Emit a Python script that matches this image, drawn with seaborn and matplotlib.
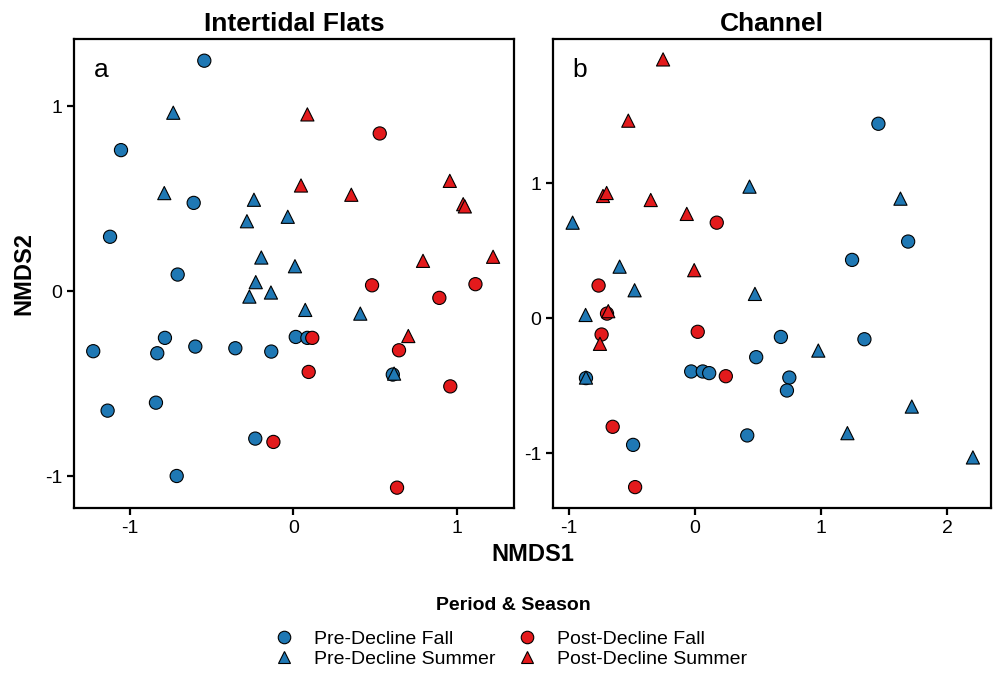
import numpy as np
import pandas as pd
import matplotlib
matplotlib.use("Agg")
import matplotlib.pyplot as plt
from matplotlib.lines import Line2D
import seaborn as sns

# NMDS scores, by habitat and group
# Intertidal Flats (panel a)
flats_pre_fall_x = [-0.545, -1.055, -1.122, -0.610, -0.708, -1.225, -0.786, -0.833, -0.600,
                    -0.355, -0.135, 0.015, 0.086, -1.137, -0.841, -0.233, -0.714, 0.609]
flats_pre_fall_y = [1.245, 0.762, 0.294, 0.477, 0.090, -0.324, -0.252, -0.335, -0.299,
                    -0.308, -0.326, -0.247, -0.252, -0.645, -0.602, -0.796, -0.998, -0.450]
flats_pre_summer_x = [-0.735, -0.790, -0.241, -0.284, -0.034, -0.196, 0.010, -0.230, -0.269,
                      -0.137, 0.073, 0.410, 0.617]
flats_pre_summer_y = [0.964, 0.530, 0.494, 0.378, 0.402, 0.182, 0.135, 0.049, -0.029,
                      -0.007, -0.101, -0.121, -0.445]
flats_post_fall_x = [0.529, 0.482, 1.115, 0.894, 0.116, 0.647, 0.094, 0.961, -0.122, 0.635]
flats_post_fall_y = [0.852, 0.032, 0.038, -0.036, -0.252, -0.319, -0.436, -0.514, -0.814, -1.061]
flats_post_summer_x = [0.086, 0.047, 0.355, 0.958, 1.040, 1.050, 0.794, 1.223, 0.704]
flats_post_summer_y = [0.955, 0.571, 0.521, 0.596, 0.470, 0.458, 0.164, 0.186, -0.242]

# Channel (panel b)
chan_pre_fall_x = [1.456, 1.692, 1.247, 0.682, 1.345, 0.486, -0.030, 0.062, 0.113,
                   0.749, 0.730, 0.415, -0.491, -0.865]
chan_pre_fall_y = [1.441, 0.568, 0.432, -0.139, -0.156, -0.289, -0.395, -0.395, -0.407,
                   -0.440, -0.536, -0.869, -0.939, -0.444]
chan_pre_summer_x = [-0.971, 0.433, 1.631, -0.598, -0.479, 0.476, -0.868, 0.979, 1.721,
                     1.210, 2.206, -0.865]
chan_pre_summer_y = [0.708, 0.975, 0.886, 0.382, 0.207, 0.180, 0.024, -0.240, -0.655,
                     -0.852, -1.032, -0.440]
chan_post_fall_x = [0.173, -0.765, -0.698, -0.741, 0.022, 0.245, -0.653, -0.475]
chan_post_fall_y = [0.708, 0.242, 0.034, -0.121, -0.101, -0.430, -0.805, -1.252]
chan_post_summer_x = [-0.253, -0.529, -0.730, -0.701, -0.351, -0.065, -0.006, -0.688, -0.754]
chan_post_summer_y = [1.918, 1.464, 0.906, 0.928, 0.876, 0.773, 0.356, 0.052, -0.190]

groups = ["Pre-Decline Fall", "Pre-Decline Summer", "Post-Decline Fall", "Post-Decline Summer"]
palette = {"Pre-Decline Fall": "#1F78B4", "Pre-Decline Summer": "#1F78B4",
           "Post-Decline Fall": "#E31A1C", "Post-Decline Summer": "#E31A1C"}
markers = {"Pre-Decline Fall": "o", "Pre-Decline Summer": "^",
           "Post-Decline Fall": "o", "Post-Decline Summer": "^"}


def make_df(parts, habitat):
    frames = []
    for grp, xs, ys in parts:
        frames.append(pd.DataFrame({"NMDS1": xs, "NMDS2": ys, "group": grp, "habitat": habitat}))
    return pd.concat(frames, ignore_index=True)


flats = make_df([
    (groups[0], flats_pre_fall_x, flats_pre_fall_y),
    (groups[1], flats_pre_summer_x, flats_pre_summer_y),
    (groups[2], flats_post_fall_x, flats_post_fall_y),
    (groups[3], flats_post_summer_x, flats_post_summer_y),
], "Intertidal Flats")
chan = make_df([
    (groups[0], chan_pre_fall_x, chan_pre_fall_y),
    (groups[1], chan_pre_summer_x, chan_pre_summer_y),
    (groups[2], chan_post_fall_x, chan_post_fall_y),
    (groups[3], chan_post_summer_x, chan_post_summer_y),
], "Channel")

sns.set_style("white")
plt.rcParams["font.family"] = ["Liberation Sans", "DejaVu Sans"]
plt.rcParams["axes.unicode_minus"] = False
plt.rcParams["text.color"] = "black"
plt.rcParams["axes.labelcolor"] = "black"

fig = plt.figure(figsize=(9.94, 6.8), dpi=100)
ax1 = fig.add_axes([0.0744, 0.2529, 0.4427, 0.6897])
ax2 = fig.add_axes([0.5563, 0.2529, 0.4406, 0.6897])

panels = [
    (ax1, flats, "Intertidal Flats", "a", (-1.343, 1.351), (-1.171, 1.362), [-1, 0, 1]),
    (ax2, chan, "Channel", "b", (-1.127, 2.349), (-1.407, 2.069), [-1, 0, 1, 2]),
]

for ax, df, title, letter, xlim, ylim, xt in panels:
    sns.scatterplot(data=df, x="NMDS1", y="NMDS2", hue="group", style="group",
                    palette=palette, markers=markers, hue_order=groups, style_order=groups,
                    s=90, edgecolor="black", linewidth=0.8, legend=False, ax=ax)
    ax.set_xlim(*xlim)
    ax.set_ylim(*ylim)
    ax.set_xticks(xt)
    ax.set_yticks([-1, 0, 1])
    ax.set_xticklabels([str(v) for v in xt])
    ax.set_yticklabels(["-1", "0", "1"])
    ax.set_title(title, fontsize=19, fontweight="bold", pad=6, color="black")
    ax.set_xlabel("")
    ax.set_ylabel("")
    ax.text(0.045, 0.96, letter, transform=ax.transAxes, fontsize=19, va="top", ha="left",
            color="black")
    for sp in ax.spines.values():
        sp.set_color("black")
        sp.set_linewidth(1.6)
    ax.tick_params(axis="both", direction="out", length=5, width=1.6, color="black",
                   labelsize=14, labelcolor="black", left=True, bottom=True)

fig.text(0.5357, 0.184, "NMDS1", fontsize=17, fontweight="bold", ha="center", va="center",
         color="black")
fig.text(0.024, 0.598, "NMDS2", fontsize=17, fontweight="bold", ha="center", va="center",
         rotation=90, color="black")

# legend title placed separately to match the wider gap above the entries
fig.text(0.516, 1 - 605 / 680, "Period & Season", fontsize=14, fontweight="bold",
         ha="center", va="center", color="black")
handles = [Line2D([], [], linestyle="none", marker=markers[g], markersize=9,
                  markerfacecolor=palette[g], markeredgecolor="black", markeredgewidth=0.8)
           for g in groups]
leg = fig.legend(handles, groups, ncol=2, loc="upper center", bbox_to_anchor=(0.509, 0.087),
                 frameon=False, fontsize=14, borderpad=0,
                 handletextpad=0.55, columnspacing=0.6, labelspacing=0.12)

fig.savefig("out.png", dpi=100)
